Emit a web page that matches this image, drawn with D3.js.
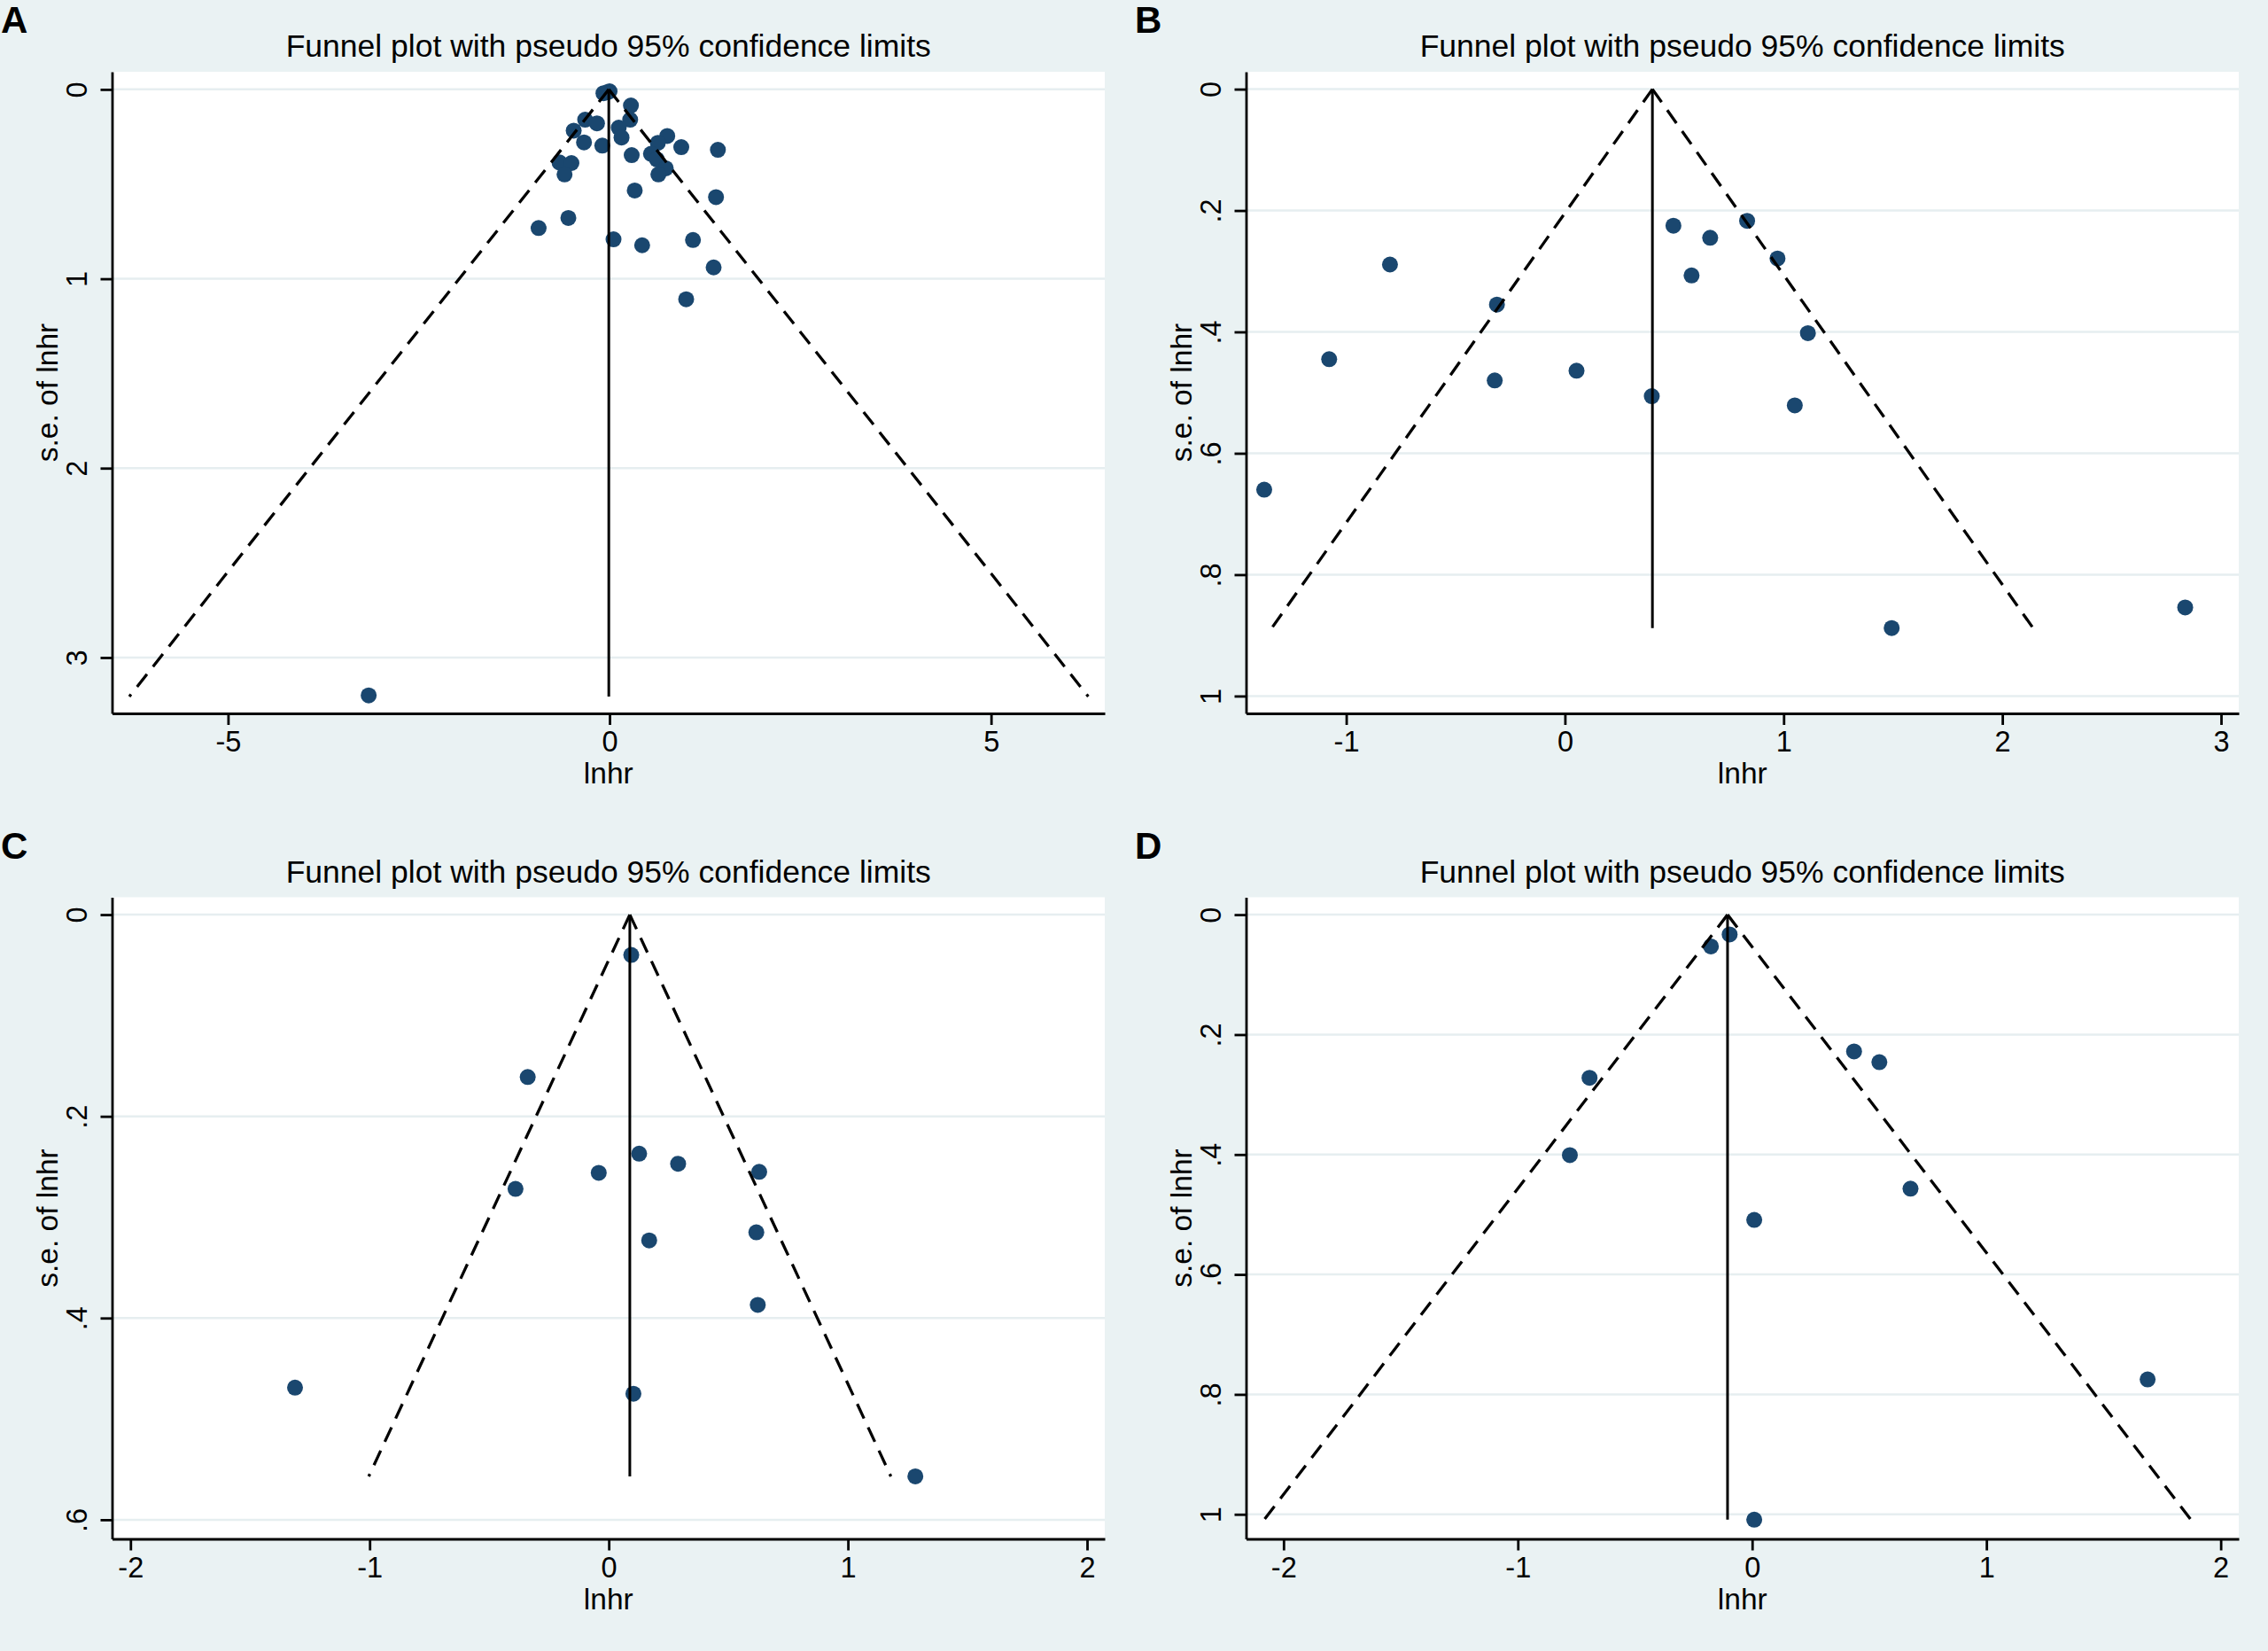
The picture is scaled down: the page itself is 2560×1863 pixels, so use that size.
<!DOCTYPE html>
<html>
<head>
<meta charset="utf-8">
<script src="https://d3js.org/d3.v7.min.js"></script>
<style>
  body { margin: 0; background: #eaf2f3; }
  text { font-family: "Liberation Sans", Arial, sans-serif; fill: #000; }
</style>
</head>
<body>
<svg id="chart" width="2560" height="1863"></svg>
<script>
// ---- data ----
// panel A
const aLnhr = [-0.08, 0.0, -0.03, 0.28, 0.27, -0.32, -0.165, -0.47, 0.12, 0.157, -0.335, -0.095,
               0.756, 0.633, 0.94, 1.42, 0.29, 0.543, 0.62, -0.656, -0.50, -0.59, 0.737, 0.64,
               0.33, 1.395, -0.54, -0.93, 0.052, 0.427, 1.093, 1.364, 1.004, -3.157];
const aSE   = [0.02, 0.01, 0.015, 0.085, 0.16, 0.16, 0.179, 0.218, 0.202, 0.254, 0.28, 0.297,
               0.246, 0.282, 0.305, 0.319, 0.347, 0.34, 0.37, 0.386, 0.389, 0.449, 0.417, 0.449,
               0.534, 0.569, 0.679, 0.732, 0.792, 0.823, 0.795, 0.94, 1.108, 3.20];
const aTheta = -0.01, aMaxSE = 3.206;
const aXTicks = [-5, 0, 5], aYTicks = [0, 1, 2, 3];

// panel B
const bLnhr = [0.496, 0.833, 0.664, 0.972, 0.579, -0.80, -0.311, 1.111, -1.078, 0.053, -0.321,
               0.397, 1.051, -1.375, 2.836, 1.494];
const bSE   = [0.225, 0.217, 0.245, 0.279, 0.307, 0.289, 0.355, 0.402, 0.445, 0.464, 0.480,
               0.506, 0.521, 0.660, 0.854, 0.888];
const bTheta = 0.40, bMaxSE = 0.888;
const bXTicks = [-1, 0, 1, 2, 3], bYTicks = [0, 0.2, 0.4, 0.6, 0.8, 1];

// panel C
const cLnhr = [0.094, -0.339, 0.127, 0.290, -0.042, 0.629, -0.390, 0.617, 0.169, 0.623, -1.312,
               0.103, 1.282];
const cSE   = [0.040, 0.161, 0.237, 0.247, 0.256, 0.255, 0.272, 0.315, 0.323, 0.387, 0.469,
               0.475, 0.557];
const cTheta = 0.088, cMaxSE = 0.557;
const cXTicks = [-2, -1, 0, 1, 2], cYTicks = [0, 0.2, 0.4, 0.6];

// panel D
const dLnhr = [-0.096, -0.176, 0.435, 0.543, -0.694, -0.778, 0.676, 0.009, 1.688, 0.009];
const dSE   = [0.033, 0.053, 0.228, 0.246, 0.272, 0.401, 0.457, 0.509, 0.775, 1.009];
const dTheta = -0.105, dMaxSE = 1.009;
const dXTicks = [-2, -1, 0, 1, 2], dYTicks = [0, 0.2, 0.4, 0.6, 0.8, 1];

const z95 = 1.96;
const titleText = "Funnel plot with pseudo 95% confidence limits";

const panels = [
  {label: "A", x: aLnhr, se: aSE, theta: aTheta, maxSE: aMaxSE, xd: [-6.52, 6.49], yd: [-0.093, 3.295], xt: aXTicks, yt: aYTicks},
  {label: "B", x: bLnhr, se: bSE, theta: bTheta, maxSE: bMaxSE, xd: [-1.458, 3.081], yd: [-0.0286, 1.0286], xt: bXTicks, yt: bYTicks},
  {label: "C", x: cLnhr, se: cSE, theta: cTheta, maxSE: cMaxSE, xd: [-2.077, 2.074], yd: [-0.0172, 0.619], xt: cXTicks, yt: cYTicks},
  {label: "D", x: dLnhr, se: dSE, theta: dTheta, maxSE: dMaxSE, xd: [-2.160, 2.077], yd: [-0.029, 1.041], xt: dXTicks, yt: dYTicks}
];

// ---- layout ----
var panel_w = 1280, panel_h = 931.5;
var pl = 126.5, pr = 1247, pt = 81, pb = 805;
var navy = "#1a476f", bg = "#eaf2f3";

// stata style labels: .2 instead of 0.2
const fmt = d => String(+d.toFixed(3)).replace(/^(-?)0\./, "$1.");

var svg = d3.select("#chart");
svg.append("rect").attr("width", 2560).attr("height", 1863).attr("fill", bg);

panels.forEach(function(p, i) {
  var g = svg.append("g")
    .attr("transform", "translate(" + (i % 2) * panel_w + "," + Math.floor(i / 2) * panel_h + ")");

  var x = d3.scaleLinear().domain(p.xd).range([pl, pr]);
  var y = d3.scaleLinear().domain(p.yd).range([pt, pb]);

  // plot region
  g.append("rect")
    .attr("x", pl).attr("y", pt)
    .attr("width", pr - pl).attr("height", pb - pt)
    .attr("fill", "#fff");

  // gridlines
  g.append("g").selectAll("line")
    .data(p.yt)
    .enter()
    .append("line")
    .attr("x1", pl).attr("x2", pr)
    .attr("y1", d => y(d)).attr("y2", d => y(d))
    .attr("stroke", "#e6eef0").attr("stroke-width", 2.5);

  // studies
  g.append("g").selectAll("circle")
    .data(p.x.map((v, j) => [v, p.se[j]]))
    .enter()
    .append("circle")
    .attr("cx", d => x(d[0]))
    .attr("cy", d => y(d[1]))
    .attr("r", 9)
    .attr("fill", navy);

  // pseudo 95% limits
  var lim = p.maxSE * z95;
  [p.theta - lim, p.theta + lim].forEach(function(e) {
    g.append("line")
      .attr("x1", x(p.theta)).attr("y1", y(0))
      .attr("x2", x(e)).attr("y2", y(p.maxSE))
      .attr("stroke", "#000").attr("stroke-width", 3.3)
      .attr("stroke-dasharray", "18,11");
  });

  // pooled estimate
  g.append("line")
    .attr("x1", x(p.theta)).attr("x2", x(p.theta))
    .attr("y1", y(0)).attr("y2", y(p.maxSE))
    .attr("stroke", "#000").attr("stroke-width", 3);

  // x axis
  var xa = g.append("g")
    .attr("transform", "translate(0," + pb + ")")
    .call(d3.axisBottom(x).tickValues(p.xt).tickFormat(fmt).tickSize(13).tickSizeOuter(0));
  xa.select(".domain").attr("stroke-width", 2.8);
  xa.selectAll(".tick line").attr("stroke-width", 2.8);
  xa.selectAll(".tick text")
    .attr("y", 0).attr("dy", null)
    .attr("transform", "translate(0,43)")
    .style("font-size", "32.5px");

  // y axis
  var ya = g.append("g")
    .attr("transform", "translate(" + pl + ",0)")
    .call(d3.axisLeft(y).tickValues(p.yt).tickFormat(fmt).tickSize(13).tickSizeOuter(0));
  ya.select(".domain").attr("stroke-width", 2.8);
  ya.selectAll(".tick line").attr("stroke-width", 2.8);
  ya.selectAll(".tick text")
    .attr("x", 0).attr("y", 0).attr("dy", null)
    .attr("text-anchor", "middle")
    .attr("transform", "translate(" + (86 - pl) + ",0) rotate(-90) translate(0,11.5)")
    .style("font-size", "32.5px");

  // titles
  g.append("text")
    .text(titleText)
    .attr("x", (pl + pr) / 2).attr("y", 64)
    .attr("text-anchor", "middle")
    .style("font-size", "35.5px");

  g.append("text")
    .text("lnhr")
    .attr("x", (pl + pr) / 2).attr("y", 884)
    .attr("text-anchor", "middle")
    .style("font-size", "33.5px");

  g.append("text")
    .text("s.e. of lnhr")
    .attr("text-anchor", "middle")
    .attr("transform", "translate(65," + (pt + pb) / 2 + ") rotate(-90)")
    .style("font-size", "33.5px");

  g.append("text")
    .text(p.label)
    .attr("x", 1).attr("y", 37)
    .style("font-size", "42px")
    .style("font-weight", "bold");
});
</script>
</body>
</html>
